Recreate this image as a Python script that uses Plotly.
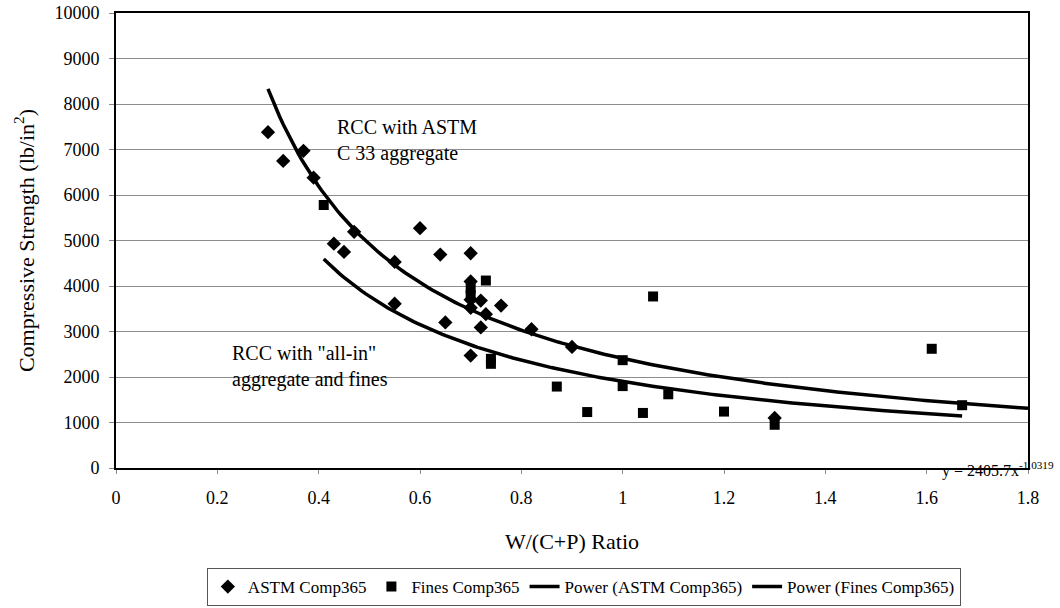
import numpy as np
import plotly.graph_objects as go

# ASTM Comp365 data (W/(C+P) ratio, compressive strength lb/in^2)
astm_x = [0.30, 0.33, 0.37, 0.39, 0.43, 0.45, 0.47, 0.55, 0.55, 0.60, 0.64, 0.65,
          0.70, 0.70, 0.70, 0.70, 0.70, 0.72, 0.72, 0.73, 0.76, 0.82, 0.90, 1.30]
astm_y = [7380, 6750, 6970, 6380, 4930, 4750, 5190, 4530, 3610, 5270, 4690, 3200,
          4720, 4100, 3700, 3520, 2470, 3680, 3090, 3380, 3570, 3050, 2660, 1100]

# Fines Comp365 data
fines_x = [0.41, 0.70, 0.70, 0.73, 0.74, 0.74, 0.87, 0.93, 1.00, 1.00, 1.04, 1.06,
           1.09, 1.20, 1.30, 1.61, 1.67]
fines_y = [5780, 3950, 3800, 4120, 2400, 2290, 1790, 1230, 2370, 1800, 1210, 3770,
           1620, 1240, 950, 2620, 1380]

# Power trendline coefficients (y = a * x^b)
astm_fit_a, astm_fit_b = 2405.7, -1.0319
astm_fit_range = [0.30, 1.80]
fines_fit_a, fines_fit_b = 1900.0, -0.99
fines_fit_range = [0.41, 1.67]

x_ticks = [0, 0.2, 0.4, 0.6, 0.8, 1, 1.2, 1.4, 1.6, 1.8]
y_ticks = list(range(0, 10001, 1000))

FONT = "Liberation Serif, Times New Roman, serif"

ax_x = np.linspace(astm_fit_range[0], astm_fit_range[1], 200)
ax_y = astm_fit_a * ax_x ** astm_fit_b
fx_x = np.linspace(fines_fit_range[0], fines_fit_range[1], 200)
fx_y = fines_fit_a * fx_x ** fines_fit_b

fig = go.Figure()
fig.add_trace(go.Scatter(x=astm_x, y=astm_y, mode="markers", name="ASTM Comp365",
                         marker=dict(symbol="diamond", size=11, color="black")))
fig.add_trace(go.Scatter(x=fines_x, y=fines_y, mode="markers", name="Fines Comp365",
                         marker=dict(symbol="square", size=10, color="black")))
fig.add_trace(go.Scatter(x=ax_x, y=ax_y, mode="lines", name="Power (ASTM Comp365)",
                         line=dict(color="black", width=3.5)))
fig.add_trace(go.Scatter(x=fx_x, y=fx_y, mode="lines", name="Power (Fines Comp365)",
                         line=dict(color="black", width=3.5)))

fig.update_layout(
    width=1060, height=608,
    margin=dict(l=116, r=32, t=13, b=140, autoexpand=False),
    paper_bgcolor="white", plot_bgcolor="white",
    font=dict(family=FONT, color="black", size=18),
    showlegend=True,
    legend=dict(orientation="h", x=0.513, xanchor="center", y=-0.2198, yanchor="top",
                bordercolor="#555", borderwidth=1, font=dict(size=17, family=FONT),
                itemwidth=30, tracegroupgap=0),
    xaxis=dict(range=[0, 1.8], tickvals=x_ticks, ticktext=[str(v) for v in x_ticks],
               showgrid=False, zeroline=False,
               showline=True, mirror=True, linecolor="black", linewidth=2,
               ticks="outside", ticklen=4, tickcolor="#888",
               ticklabelstandoff=8,
               tickfont=dict(size=18, family=FONT),
               title=dict(text="W/(C+P) Ratio", font=dict(size=22, family=FONT), standoff=27)),
    yaxis=dict(range=[0, 10000], tickvals=y_ticks, tickformat="d",
               showgrid=True, gridcolor="#8c8c8c", gridwidth=1, zeroline=False,
               showline=True, mirror=True, linecolor="black", linewidth=2,
               ticks="outside", ticklen=5, tickcolor="#888",
               ticklabelstandoff=6,
               tickfont=dict(size=18, family=FONT),
               title=dict(text="Compressive Strength (lb/in<sup>2</sup>)",
                          font=dict(size=22, family=FONT), standoff=14)),
    annotations=[
        dict(x=0.432, y=7190, xref="x", yref="y", xanchor="left", yanchor="middle",
             text="RCC with ASTM<br>C 33 aggregate", showarrow=False, align="left",
             font=dict(size=20, family=FONT)),
        dict(x=0.225, y=2240, xref="x", yref="y", xanchor="left", yanchor="middle",
             text="RCC with \"all-in\"<br>aggregate and fines", showarrow=False, align="left",
             font=dict(size=20, family=FONT)),
        dict(x=0.9035, y=-0.004, xref="paper", yref="paper", xanchor="left", yanchor="middle",
             text="y = 2405.7x<sup>-1.0319</sup>", showarrow=False,
             font=dict(size=16, family=FONT)),
    ],
)

fig.write_html("out.html")
